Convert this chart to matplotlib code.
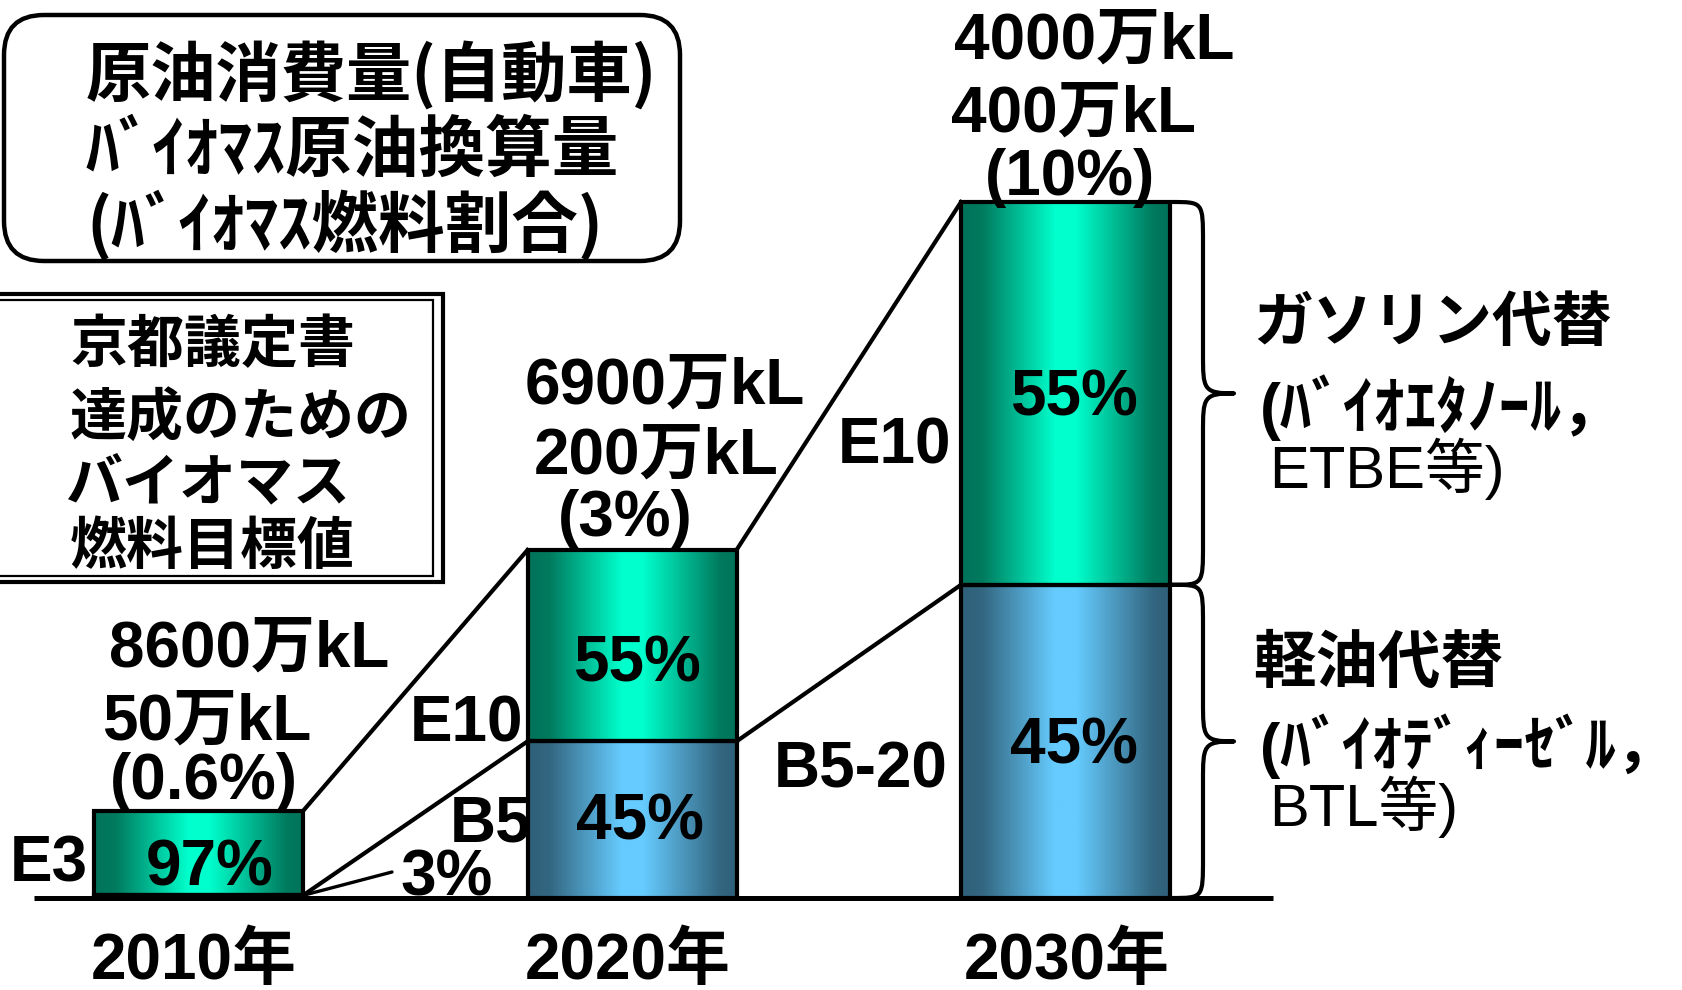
import numpy as np
import matplotlib.pyplot as plt
from matplotlib.colors import LinearSegmentedColormap
from matplotlib.patches import FancyBboxPatch, Rectangle, PathPatch
from matplotlib.path import Path

plt.rcParams['font.family'] = ['Liberation Sans', 'Noto Sans CJK JP']

# バイオマス燃料目標値 (万kL, 自動車用)
years = ['2010年', '2020年', '2030年']
crude_use = ['8600万kL', '6900万kL', '4000万kL']
biomass = [50, 200, 400]
biomass_txt = ['50万kL', '200万kL', '400万kL']
share_txt = ['(0.6%)', '(3%)', '(10%)']
gasoline_pct = [97, 55, 55]
diesel_pct = [3, 45, 45]
gasoline_grade = ['E3', 'E10', 'E10']
diesel_grade = ['', 'B5', 'B5-20']

diesel = [b * p / 100 for b, p in zip(biomass, diesel_pct)]
gasoline = [b * p / 100 for b, p in zip(biomass, gasoline_pct)]

W, H = 1682, 990
fig = plt.figure(figsize=(W / 100, H / 100), dpi=100)

# 背景用 (ピクセル座標)
lay = fig.add_axes([0, 0, 1, 1])
lay.set_xlim(0, W)
lay.set_ylim(H, 0)
lay.axis('off')

# 棒グラフ用
ax = fig.add_axes([0, 0, 1, 1])
ax.axis('off')
pitch, x_first = 433.5, 198.5
ppu, base = 1.74, 898
bw = 209 / pitch

x = np.arange(len(years))

green = LinearSegmentedColormap.from_list('g', [(0, '#00735a'), (0.1, '#007a5e'), (0.45, '#00ffcc'),
                                                (0.55, '#00ffcc'), (0.92, '#007a5e'), (1, '#00735a')])
blue = LinearSegmentedColormap.from_list('b', [(0, '#30607a'), (0.1, '#336680'), (0.45, '#66ccff'),
                                               (0.55, '#66ccff'), (0.92, '#336680'), (1, '#30607a')])
grad = np.linspace(0, 1, 256)[None, :]

for i in x:
    l, r = i - bw / 2, i + bw / 2
    ax.imshow(grad, cmap=blue, extent=(l, r, 0, diesel[i]), aspect='auto',
              interpolation='bilinear', zorder=1)
    ax.imshow(grad, cmap=green, extent=(l, r, diesel[i], biomass[i]), aspect='auto',
              interpolation='bilinear', zorder=1)

ax.bar(x, diesel, bw, fill=False, edgecolor='black', linewidth=3, zorder=3)
ax.bar(x, gasoline, bw, bottom=diesel, fill=False, edgecolor='black', linewidth=3, zorder=3)

# 年次間をつなぐ線
for i in x[:-1]:
    ax.plot([i + bw / 2, i + 1 - bw / 2], [biomass[i], biomass[i + 1]], color='black', lw=3, zorder=3)
    ax.plot([i + bw / 2, i + 1 - bw / 2], [diesel[i], diesel[i + 1]], color='black', lw=3, zorder=3)

# 2010年の軽油代替 3% の引き出し線
ax.annotate('', xy=(bw / 2, diesel[0]), xycoords='data', xytext=(392, H - 872),
            textcoords='figure pixels',
            arrowprops=dict(arrowstyle='-', lw=2.4, color='black', shrinkA=0, shrinkB=0))

ax.plot([(34 - x_first) / pitch, (1273 - x_first) / pitch], [0, 0], color='black', lw=3.6,
        solid_capstyle='butt', zorder=4)

ax.set_xlim(-x_first / pitch, (W - x_first) / pitch)
ax.set_ylim(-(H - base) / ppu, base / ppu)


def ypx(v):
    return base - v * ppu


def xpx(v):
    return x_first + v * pitch


# 右側の中括弧
def brace(x0, top, bot, depth=62, r=40):
    mid = (top + bot) / 2
    xm = x0 + depth / 2
    xt = x0 + depth
    verts = [(x0, top), (xm, top), (xm, top), (xm, top + r),
             (xm, mid - r),
             (xm, mid - 4), (xm, mid), (xt, mid),
             (xm, mid), (xm, mid + 4), (xm, mid + r),
             (xm, bot - r),
             (xm, bot), (xm, bot), (x0, bot)]
    codes = [Path.MOVETO, Path.CURVE4, Path.CURVE4, Path.CURVE4,
             Path.LINETO,
             Path.CURVE4, Path.CURVE4, Path.CURVE4,
             Path.CURVE4, Path.CURVE4, Path.CURVE4,
             Path.LINETO,
             Path.CURVE4, Path.CURVE4, Path.CURVE4]
    lay.add_patch(PathPatch(Path(verts, codes), fill=False, lw=3, edgecolor='black',
                            capstyle='round', joinstyle='round'))


bx = xpx(x[-1] + bw / 2) + 2
brace(bx, ypx(biomass[-1]), ypx(diesel[-1]))
brace(bx, ypx(diesel[-1]), ypx(0))

# 凡例ボックス
lay.add_patch(FancyBboxPatch((4, 15), 676, 246, boxstyle='round,pad=0,rounding_size=40',
                             fill=False, lw=3.2, edgecolor='black'))
lay.add_patch(Rectangle((-10, 293.5), 453, 288, fill=False, lw=3, edgecolor='black'))
lay.add_patch(Rectangle((-10, 299.5), 443, 276, fill=False, lw=1.6, edgecolor='black'))

cjk = ['Noto Sans CJK JP', 'DejaVu Sans']


def T(px, py, s, size=46, ha='center', va='baseline', weight='bold', family=None):
    fig.text(px / W, 1 - py / H, s, fontsize=size, ha=ha, va=va, weight=weight,
             family=family)


T(86, 75, '原油消費量(自動車)', size=47, ha='left', va='center', family=cjk)
T(86, 151, 'ﾊﾞｲｵﾏｽ原油換算量', size=48, ha='left', va='center', family=cjk)
T(86, 225, '(ﾊﾞｲｵﾏｽ燃料割合)', size=48, ha='left', va='center', family=cjk)

for px, py, s in zip([70, 70, 66, 70], [345, 418, 483, 547],
                     ['京都議定書', '達成のための', 'バイオマス', '燃料目標値']):
    T(px, py, s, size=41, ha='left', va='center', family=cjk)

# 各年のラベル
T(249, 667, crude_use[0])
T(207, 740, biomass_txt[0])
T(204, 799, share_txt[0])
T(665, 404, crude_use[1])
T(656, 474, biomass_txt[1])
T(625, 536, share_txt[1])
T(1094, 59, crude_use[2])
T(1074, 132, biomass_txt[2])
T(1070, 195, share_txt[2])

T(49, 882, gasoline_grade[0])
T(210, 885, f'{gasoline_pct[0]}%')
T(447, 896, f'{diesel_pct[0]}%')
T(467, 742, gasoline_grade[1])
T(491, 842, diesel_grade[1])
T(637, 681, f'{gasoline_pct[1]}%')
T(640, 840, f'{diesel_pct[1]}%')
T(894, 463, gasoline_grade[2])
T(861, 788, diesel_grade[2])
T(1074, 416, f'{gasoline_pct[2]}%')
T(1074, 764, f'{diesel_pct[2]}%')

for i, s in enumerate(years):
    T([194, 628, 1067][i], 979, s)

# 右側の説明
T(1253, 325, 'ガソリン代替', size=43, ha='left', va='center')
T(1260, 408, '(ﾊﾞｲｵｴﾀﾉｰﾙ，', size=45, ha='left', va='center')
T(1269, 469, 'ETBE等)', size=43, ha='left', va='center', weight='normal')
T(1253, 665, '軽油代替', size=45, ha='left', va='center')
T(1260, 746, '(ﾊﾞｲｵﾃﾞｨｰｾﾞﾙ，', size=44, ha='left', va='center')
T(1269, 807, 'BTL等)', size=43, ha='left', va='center', weight='normal')

fig.savefig('out.png', dpi=100)
